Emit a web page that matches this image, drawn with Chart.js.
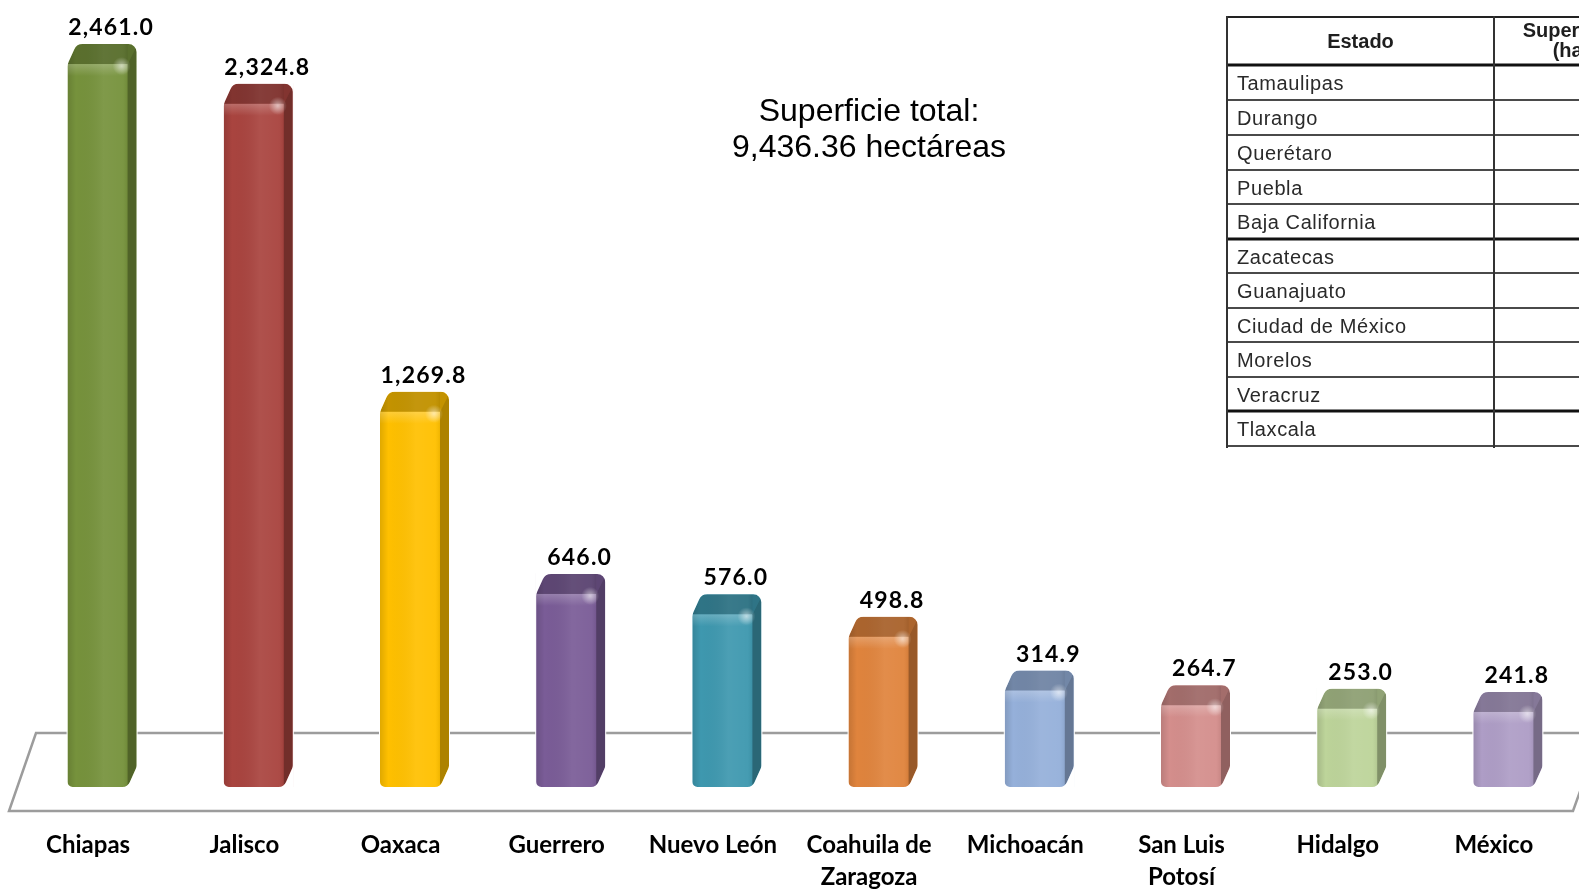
<!DOCTYPE html>
<html>
<head>
<meta charset="utf-8">
<script src="https://cdn.jsdelivr.net/npm/chart.js@4.4.1/dist/chart.umd.min.js"></script>
<style>
html, body { margin: 0; padding: 0; background: #ffffff; overflow: hidden; }
#wrap { position: relative; width: 1600px; height: 889px; }
#c { position: absolute; left: 0; top: 0; }
</style>
</head>
<body>
<div id="wrap"><canvas id="c" width="1600" height="889" style="width:1600px;height:889px"></canvas></div>
<script>
// ---------- data ----------
const categories = ['Chiapas', 'Jalisco', 'Oaxaca', 'Guerrero', 'Nuevo León', 'Coahuila de Zaragoza', 'Michoacán', 'San Luis Potosí', 'Hidalgo', 'México'];
const superficieHa = [2461.0, 2324.8, 1269.8, 646.0, 576.0, 498.8, 314.9, 264.7, 253.0, 241.8];
const barColors = ['#76923C', '#A9443F', '#FFC000', '#7A5C97', '#3E98AF', '#E0843D', '#95B0DA', '#D48E8C', '#BDD49A', '#AE9DC6'];
const totalLines = ['Superficie total:', '9,436.36 hectáreas'];
const tableHeaders = ['Estado', 'Superficie', '(ha)'];
const tableStates = ['Tamaulipas', 'Durango', 'Querétaro', 'Puebla', 'Baja California', 'Zacatecas', 'Guanajuato', 'Ciudad de México', 'Morelos', 'Veracruz', 'Tlaxcala'];
const axisMin = -84, axisMax = 2612;

// ---------- helpers ----------
function outlinePath(ctx, L, T, R, B, d, h) {
  ctx.moveTo(L, B - 6);
  ctx.arcTo(L, T + h, L + d, T, 12);
  ctx.arcTo(L + d, T, R, T, 9);
  ctx.arcTo(R, T, R, B - h, 8);
  ctx.arcTo(R, B - h, R - d, B, 8);
  ctx.arcTo(R - d, B, L, B, 8);
  ctx.arcTo(L, B, L, T + h, 5);
  ctx.closePath();
}

const floorPlugin = {
  id: 'floor',
  beforeDatasetsDraw(chart) {
    const { ctx, chartArea } = chart;
    const B = chartArea.bottom;
    ctx.save();
    ctx.strokeStyle = '#9c9c9c';
    ctx.lineWidth = 2.5;
    ctx.lineJoin = 'miter';
    ctx.beginPath();
    ctx.moveTo(chartArea.left + 12, B - 54);
    ctx.lineTo(chartArea.right + 15, B - 54);
    ctx.lineTo(chartArea.right - 13, B + 24);
    ctx.lineTo(chartArea.left - 15, B + 24);
    ctx.closePath();
    ctx.stroke();
    ctx.restore();
  }
};

const barLookPlugin = {
  id: 'barLook',
  afterDatasetsDraw(chart) {
    const ctx = chart.ctx;
    const meta = chart.getDatasetMeta(0);
    meta.data.forEach((el, i) => {
      const p = el.getProps(['x', 'y', 'base', 'width'], true);
      const L = p.x - p.width / 2, R = p.x + p.width / 2, T = p.y, B = p.base;
      const d = 9, h = 20;
      ctx.save();
      ctx.beginPath();
      outlinePath(ctx, L, T, R, B, d, h);
      ctx.clip();
      let g = ctx.createLinearGradient(L, 0, R - d, 0);
      g.addColorStop(0, 'rgba(0,0,0,0.12)');
      g.addColorStop(0.14, 'rgba(0,0,0,0)');
      g.addColorStop(0.6, 'rgba(255,255,255,0.07)');
      g.addColorStop(0.92, 'rgba(255,255,255,0.04)');
      g.addColorStop(1, 'rgba(0,0,0,0.06)');
      ctx.fillStyle = g;
      ctx.fillRect(L, T, R - d - L, B - T);
      g = ctx.createLinearGradient(0, T + h, 0, T + h + 12);
      g.addColorStop(0, 'rgba(255,255,255,0.22)');
      g.addColorStop(1, 'rgba(255,255,255,0)');
      ctx.fillStyle = g;
      ctx.fillRect(L, T + h, R - d - L, 12);
      // top face
      ctx.beginPath();
      ctx.moveTo(L - 2, T + h); ctx.lineTo(L + d - 2, T - 2); ctx.lineTo(R + 2, T - 2); ctx.lineTo(R - d, T + h);
      ctx.closePath();
      ctx.fillStyle = 'rgba(0,0,0,0.23)';
      ctx.fill();
      // right face
      ctx.beginPath();
      ctx.moveTo(R - d, T + h); ctx.lineTo(R + 2, T - 2); ctx.lineTo(R + 2, B - h); ctx.lineTo(R - d, B + 2);
      ctx.closePath();
      ctx.fillStyle = 'rgba(0,0,0,0.32)';
      ctx.fill();
      // highlight
      const hx = R - d - 6, hy = T + h + 2;
      const rg = ctx.createRadialGradient(hx, hy, 0, hx, hy, 9);
      rg.addColorStop(0, 'rgba(255,255,255,0.55)');
      rg.addColorStop(1, 'rgba(255,255,255,0)');
      ctx.fillStyle = rg;
      ctx.fillRect(hx - 12, hy - 12, 24, 24);
      ctx.restore();
      // white-out outside silhouette within bar box
      ctx.save();
      ctx.beginPath();
      ctx.rect(L - 1, T - 1, (R - L) + 2, (B - T) + 2);
      outlinePath(ctx, L, T, R, B, d, h);
      ctx.fillStyle = '#ffffff';
      ctx.fill('evenodd');
      ctx.restore();
      // value label
      ctx.save();
      ctx.font = 'bold 23px Lato, "Open Sans", sans-serif';
      try { ctx.letterSpacing = '1.2px'; } catch (e) {}
      ctx.fillStyle = '#000000';
      ctx.textAlign = 'center';
      ctx.textBaseline = 'alphabetic';
      const txt = superficieHa[i].toLocaleString('en-US', { minimumFractionDigits: 1, maximumFractionDigits: 1 });
      ctx.fillText(txt, p.x + 9, T - 9);
      ctx.restore();
    });
  }
};

const decorPlugin = {
  id: 'decor',
  afterDraw(chart) {
    const ctx = chart.ctx;
    // total text
    ctx.save();
    ctx.font = '32px "Liberation Sans", Arial, sans-serif';
    ctx.fillStyle = '#000000';
    ctx.textAlign = 'center';
    ctx.textBaseline = 'alphabetic';
    ctx.fillText(totalLines[0], 869, 121);
    ctx.fillText(totalLines[1], 869, 157);
    ctx.restore();

    // table
    const x0 = 1227, x1 = 1494, x2 = 1648;
    const yLines = [17, 65, 100, 135, 170, 204, 239, 273, 308, 342, 377, 411, 446];
    const thick = [1, 6, 11];
    ctx.save();
    ctx.fillStyle = '#ffffff';
    ctx.fillRect(x0, yLines[0], x2 - x0, yLines[yLines.length - 1] - yLines[0]);
    yLines.forEach((y, k) => {
      ctx.beginPath();
      ctx.strokeStyle = thick.includes(k) ? '#111111' : (k === 0 ? '#222222' : '#4a4a4a');
      ctx.lineWidth = thick.includes(k) ? 3 : 2;
      ctx.moveTo(x0 - 1, y); ctx.lineTo(x2, y);
      ctx.stroke();
    });
    ctx.strokeStyle = '#333333';
    ctx.lineWidth = 2;
    [x0, x1].forEach(x => {
      ctx.beginPath(); ctx.moveTo(x, yLines[0] - 1); ctx.lineTo(x, yLines[yLines.length - 1] + 2); ctx.stroke();
    });
    ctx.fillStyle = '#1e1e1e';
    ctx.font = 'bold 20px "Liberation Sans", Arial, sans-serif';
    ctx.textAlign = 'center';
    ctx.textBaseline = 'middle';
    ctx.fillText(tableHeaders[0], (x0 + x1) / 2, (yLines[0] + yLines[1]) / 2 + 1);
    ctx.textBaseline = 'alphabetic';
    ctx.fillText(tableHeaders[1], (x1 + x2) / 2, 37);
    ctx.fillText(tableHeaders[2], (x1 + x2) / 2, 57);
    ctx.fillStyle = '#2a2a2a';
    ctx.font = '20px "Liberation Sans", Arial, sans-serif';
    try { ctx.letterSpacing = '0.6px'; } catch (e) {}
    ctx.textAlign = 'left';
    ctx.textBaseline = 'middle';
    tableStates.forEach((s, k) => {
      ctx.fillText(s, x0 + 10, (yLines[k + 1] + yLines[k + 2]) / 2 + 2);
    });
    ctx.restore();
  }
};

new Chart(document.getElementById('c'), {
  type: 'bar',
  data: {
    labels: categories,
    datasets: [{
      data: superficieHa,
      backgroundColor: barColors,
      borderWidth: 0,
      barThickness: 69,
      base: axisMin
    }]
  },
  options: {
    responsive: false,
    animation: false,
    layout: { padding: { left: 24, right: 14, top: 0, bottom: 0 } },
    plugins: { legend: { display: false }, tooltip: { enabled: false }, title: { display: false } },
    scales: {
      x: {
        grid: { display: false, drawTicks: false },
        border: { display: false },
        ticks: {
          font: { family: 'Lato', weight: 'bold', size: 24, lineHeight: 1.34 },
          color: '#000000',
          padding: 42,
          labelOffset: -14,
          maxRotation: 0,
          minRotation: 0,
          autoSkip: false,
          callback: function (v) {
            const s = this.getLabelForValue(v);
            if (s.length > 12) { const k = s.lastIndexOf(' '); return [s.slice(0, k), s.slice(k + 1)]; }
            return s;
          }
        },
        afterFit(scale) { scale.height = 102; }
      },
      y: { display: false, min: axisMin, max: axisMax }
    }
  },
  plugins: [floorPlugin, barLookPlugin, decorPlugin]
});
</script>
</body>
</html>
